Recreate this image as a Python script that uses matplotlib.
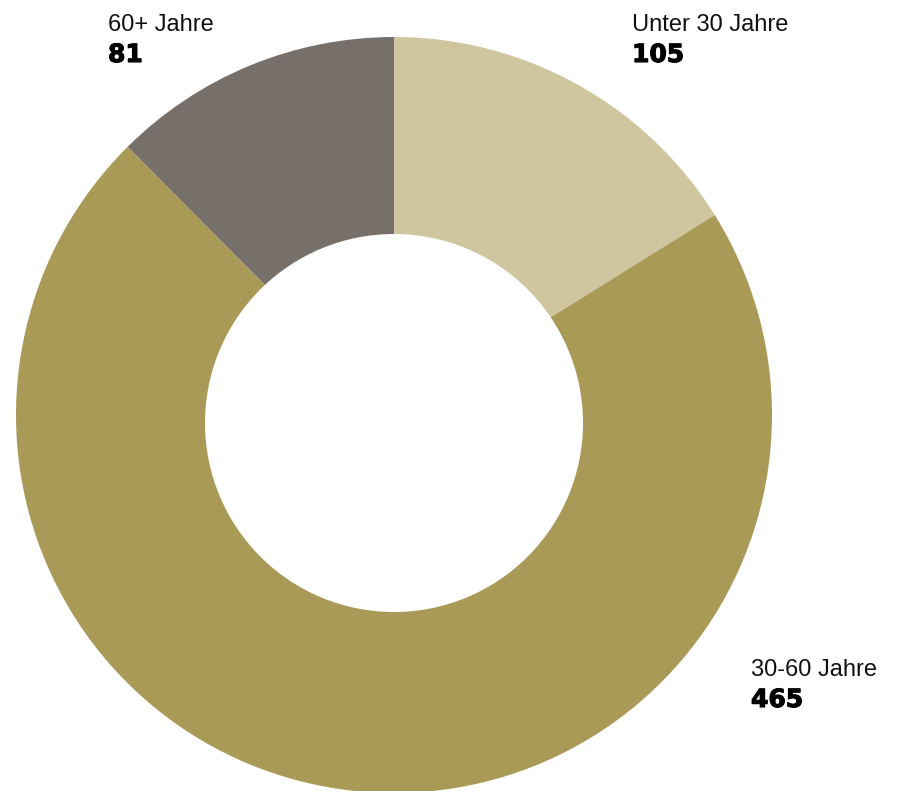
import matplotlib.pyplot as plt
import matplotlib.patheffects as pe
from matplotlib.patches import Circle

# Altersgruppen
labels = ["Unter 30 Jahre", "30-60 Jahre", "60+ Jahre"]
values = [105, 465, 81]
colors = ["#cfc69f", "#aa9a58", "#77706a"]

W, H = 900, 791
fig = plt.figure(figsize=(W / 100, H / 100), dpi=100)
ax = fig.add_axes([0, 0, 1, 1])

# pie clockwise from 12 o'clock, hole cut out afterwards
cx, cy, r = 394, H - 415, 378
ax.pie(values, colors=colors, startangle=90, counterclock=False,
       center=(cx, cy), radius=r, wedgeprops=dict(linewidth=0))
ax.add_patch(Circle((394, H - 423), 189, facecolor="white",
                    edgecolor="none", zorder=5))

ax.set_xlim(0, W)
ax.set_ylim(0, H)
ax.set_aspect("auto")
ax.axis("off")

# label positions (left x, baseline y of the name line)
label_pos = [(632, 31), (751, 676), (108, 31)]
for name, val, (x, y) in zip(labels, values, label_pos):
    ax.text(x, H - y, name, fontsize=17, family="Liberation Sans",
            ha="left", va="baseline", color="#111111")
    ax.text(x, H - y - 31, str(val), fontsize=18, family="DejaVu Sans",
            fontweight="bold", ha="left", va="baseline", color="black",
            path_effects=[pe.withStroke(linewidth=0.8, foreground="black")])

fig.savefig("out.png", dpi=100)
